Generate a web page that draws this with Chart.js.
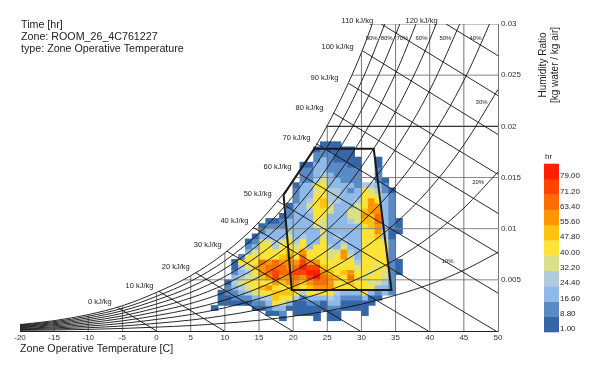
<!DOCTYPE html>
<html>
<head>
<meta charset="utf-8">
<title>Psychrometric chart</title>
<script src="https://cdn.jsdelivr.net/npm/chart.js@4"></script>
<style>
  body { margin: 0; background: #fff; }
</style>
</head>
<body>
<canvas id="psychro" width="600" height="368"></canvas>
<script>
const titleLines = ['Time [hr]', 'Zone: ROOM_26_4C761227', 'type: Zone Operative Temperature'];
const xTickLabels = ['-20','-15','-10','-5','0','5','10','15','20','25','30','35','40','45','50'];
const yTickLabels = ['', '0.005', '0.01', '0.015', '0.02', '0.025', '0.03'];

// legend, bottom to top
const legendLabels = ['1.00','8.80','16.60','24.40','32.20','40.00','47.80','55.60','63.40','71.20','79.00'];
const legendStops = [1, 8.8, 16.6, 24.4, 32.2, 40, 47.8, 55.6, 63.4, 71.2, 79];
const legendColors = ['#3566a8','#5a8ac4','#8fb9e8','#afcbdc','#d9e085','#fde338','#fec20f','#ff9500','#ff6c00','#ff4300','#ff2000'];

// hours per cell: one column per degree, cells 0.0005 tall, going up from columnStart
const tempBins = [8,9,10,11,12,13,14,15,16,17,18,19,20,21,22,23,24,25,26,27,28,29,30,31,32,33,34,35];
const columnStart = [.002,.0025,.0025,.0025,.0025,.0025,.002,.002,.0015,.0015,.001,.002,.0015,.0015,.0015,.001,.002,.001,.001,.002,.002,.002,.0015,.0025,.003,.0035,.0035,.0055];
const hourColumns = [
  [4],
  [4,4,4],
  [4,4,12,12,4],
  [4,12,12,20,28,20,12,4,4],
  [4,12,20,28,36,28,20,28,44,12],
  [4,12,28,36,44,36,28,36,44,44,20,12,4],
  [4,12,20,36,44,44,36,44,52,44,44,36,20,12,4],
  [4,12,28,44,52,44,52,60,60,67,44,44,44,36,20,12,4],
  [4,12,20,28,44,60,44,60,67,67,60,44,44,44,36,20,20,12,4],
  [4,20,44,52,52,44,60,75,75,67,67,44,44,28,28,20,20,12,4],
  [4,12,20,36,44,52,44,52,60,67,67,60,52,44,44,36,20,20,12,12,4],
  [4,20,44,52,44,60,60,67,60,60,60,52,44,44,36,28,20,20,12,12,4],
  [4,4,4,28,44,52,60,67,75,67,60,44,44,36,28,20,20,20,20,20,20,20,12,12,12,4],
  [4,4,4,12,28,44,52,60,75,82,75,67,60,44,44,28,20,20,20,20,20,20,20,20,20,20,12,12,12,4],
  [4,4,12,20,44,52,60,75,82,75,60,44,44,20,20,20,20,20,20,20,28,36,28,20,20,20,12,12,12,4],
  [4,4,4,12,20,44,60,67,82,82,75,60,44,44,44,20,20,20,36,44,44,44,44,44,44,36,44,28,20,20,20,12,12,4],
  [4,4,20,44,60,67,67,60,52,44,44,44,44,44,36,36,36,36,44,44,52,52,44,44,44,36,28,20,20,20,12,12,4],
  [4,4,12,20,28,44,60,60,60,52,44,44,36,36,28,20,20,20,20,20,20,36,36,28,28,28,20,20,20,12,12,12,12,4,4],
  [4,4,12,20,20,28,44,44,52,44,44,44,44,36,20,20,28,20,20,20,20,20,20,28,28,28,20,20,12,12,12,4,4,4,4],
  [4,4,12,20,44,44,44,52,44,44,60,60,36,28,20,20,20,20,20,20,20,20,20,20,20,12,12,12,12,4,4,4],
  [4,4,12,20,44,52,67,60,44,44,36,28,20,20,20,20,20,28,36,36,20,20,20,12,20,12,12,12,4,4,4,4],
  [4,4,12,20,44,44,44,44,36,28,20,20,20,20,20,20,20,36,36,36,36,28,20,20,12,12,12,12,4,4],
  [4,4,4,20,44,44,44,36,44,44,44,44,44,44,44,44,44,44,52,60,52,44,44,44,44,28],
  [4,4,20,44,36,44,36,44,44,44,44,44,44,44,44,52,52,52,60,60,60,44,36,28],
  [4,12,20,36,44,44,36,44,44,44,44,44,52,60,60,67,67,60,60,44,36,28,20,12,12,12,4,4],
  [20,20,28,36,36,44,44,44,44,44,36,28,28,20,20,20,20,20,20,20,12,12,4],
  [12,12,12,12,12,12,12,12,12,12,12,4,4,12,12,12,12,12,12,12,4],
  [4,4,4,0,0,0,0,0,4,4,4]
];

// relative humidity curves, read at every 5 degrees from -20
const curveTemps = [-20,-15,-10,-5,0,5,10,15,20,25,30,35,40,45,50];
const rh100 = [.00063,.00101,.0016,.00247,.00377,.0054,.00763,.01065,.0147,.02008,.0272,.03658];
const rh90 = [.00057,.00091,.00144,.00222,.00339,.00486,.00686,.00957,.0132,.01801,.02437,.03273];
const rh80 = [.0005,.00081,.00128,.00198,.00302,.00431,.00609,.00849,.0117,.01596,.02157,.02892,.0385];
const rh70 = [.00044,.00071,.00112,.00173,.00264,.00377,.00532,.00741,.01021,.01392,.0188,.02516,.03344];
const rh60 = [.00038,.00061,.00096,.00148,.00226,.00323,.00456,.00634,.00873,.01189,.01604,.02144,.02844,.03746];
const rh50 = [.00032,.00051,.0008,.00124,.00189,.00269,.00379,.00528,.00727,.00988,.01331,.01777,.02352,.03091];
const rh40 = [.00025,.0004,.00064,.00099,.00151,.00215,.00303,.00421,.0058,.00788,.0106,.01413,.01868,.02448,.03188];
const rh30 = [.00019,.0003,.00048,.00074,.00113,.00161,.00227,.00316,.00434,.00589,.00792,.01054,.0139,.01819,.0236];
const rh20 = [.00013,.0002,.00032,.00049,.00075,.00107,.00151,.0021,.00289,.00392,.00526,.00699,.0092,.01201,.01554];
const rh10 = [.00006,.0001,.00016,.00025,.00038,.00053,.00076,.00105,.00144,.00195,.00262,.00349,.00456,.00594,.00768];
const rhCurves = [rh100, rh90, rh80, rh70, rh60, rh50, rh40, rh30, rh20, rh10];

// enthalpy lines, from the saturation end to the bottom or right edge
const enthalpyLabels = ['0 kJ/kg','10 kJ/kg','20 kJ/kg','30 kJ/kg','40 kJ/kg','50 kJ/kg','60 kJ/kg','70 kJ/kg','80 kJ/kg','90 kJ/kg','100 kJ/kg','110 kJ/kg','120 kJ/kg'];
const enthalpyStartT = [-5.7,.3,5.7,10.3,14.2,17.7,20.8,23.4,25.9,28.1,30.1,32.9,42.4];
const enthalpyStartW = [.0023,.0039,.0057,.0078,.0101,.0127,.0154,.0183,.0213,.0242,.0274,.03,.03];
const enthalpyEndT = [0,9.9,19.9,29.8,39.8,49.7,50,50,50,50,50,50,50];
const enthalpyEndW = [0,0,0,0,0,0,.0037,.0076,.0115,.0153,.0192,.023,.0269];
const enthalpyLabelT = [-8.3,-2.5,2.8,7.5,11.4,14.8,17.7,20.5,22.4,24.6,26.5,29.4,38.8];
const enthalpyLabelW = [.0028,.0044,.0063,.0084,.0108,.0134,.016,.0189,.0218,.0247,.0278,.0303,.0303];

const rhLabels = ['90%','80%','70%','60%','50%','40%','30%','20%','10%'];
const rhLabelT = [31.5,33.7,36,38.8,42.3,46.7,47.6,47.1,42.6];
const rhLabelW = [.0286,.0286,.0286,.0286,.0286,.0286,.0223,.0145,.0068];

// grid lines stop at the saturation curve
const gridTemps = [-15,-10,-5,0,5,10,15,20,25,30,35,40,45];
const gridTemp_top = [.00101,.0016,.00247,.00377,.0054,.00763,.01065,.0147,.02008,.0272,.03,.03,.03];
const gridHumidity = [.005,.01,.015,.02,.025,.03];
const gridHumidity_left = [3.9,14,20.3,24.9,28.6,31.7];

// comfort polygon
const polygonT = [18.6,23.1,31.8,34.4,19.8,18.6];
const polygonW = [.0133,.0178,.0178,.004,.004,.0133];

function cellColor(hours) {
  let idx = 0;
  legendStops.forEach((s, i) => { if (hours >= s) idx = i; });
  return legendColors[idx];
}

// merge neighbours of the same class so no seams show
const cellData = [];
const cellColors = [];
tempBins.forEach((t, c) => {
  let lo = columnStart[c], run = null;
  hourColumns[c].forEach((h) => {
    const hi = lo + 0.0005;
    const col = h > 0 ? cellColor(h) : null;
    if (col && run && run.col === col) {
      run.point.y[1] = hi;
    } else if (col) {
      run = { col: col, point: { x: t + 0.5, y: [lo, hi] } };
      cellData.push(run.point);
      cellColors.push(col);
    } else {
      run = null;
    }
    lo = hi;
  });
});

function lineSet(points, color, width) {
  return {
    type: 'line', data: points, borderColor: color, borderWidth: width,
    pointRadius: 0, fill: false, tension: 0, order: 1
  };
}

const datasets = [{
  type: 'bar', data: cellData, backgroundColor: cellColors, barThickness: 7,
  grouped: false, borderWidth: 0, order: 5
}];

rhCurves.forEach((vals) => {
  const set = lineSet(vals.map((w, i) => ({ x: curveTemps[i], y: w })), '#111', 0.9);
  set.cubicInterpolationMode = 'monotone';
  datasets.push(set);
});
enthalpyStartT.forEach((t, i) => {
  datasets.push(lineSet([{ x: t, y: enthalpyStartW[i] }, { x: enthalpyEndT[i], y: enthalpyEndW[i] }], '#111', 0.9));
});
gridTemps.forEach((t, i) => {
  datasets.push(lineSet([{ x: t, y: 0 }, { x: t, y: gridTemp_top[i] }], '#666', 0.9));
});
gridHumidity.forEach((w, i) => {
  datasets.push(lineSet([{ x: gridHumidity_left[i], y: w }, { x: 50, y: w }], i === 3 ? '#333' : '#888', i === 3 ? 1.3 : 1));
});
const polygon = lineSet(polygonT.map((t, i) => ({ x: t, y: polygonW[i] })), '#1a1a1a', 2);
polygon.order = 0;
datasets.push(polygon);

const textPlugin = {
  id: 'textPlugin',
  afterDraw(chart) {
    const ctx = chart.ctx;
    const x = chart.scales.x, y = chart.scales.y;
    ctx.save();
    ctx.fillStyle = '#222';
    ctx.textBaseline = 'middle';

    ctx.textAlign = 'left';
    ctx.font = '10.7px "Liberation Sans"';
    titleLines.forEach((s, i) => ctx.fillText(s, 21, 25 + i * 12));
    ctx.fillText('Zone Operative Temperature [C]', 20, 349);

    ctx.save();
    ctx.translate(543, 65);
    ctx.rotate(-Math.PI / 2);
    ctx.textAlign = 'center';
    ctx.font = '10px "Liberation Sans"';
    ctx.fillText('Humidity Ratio', 0, 0);
    ctx.fillText('[kg water / kg air]', 0, 12);
    ctx.restore();

    ctx.textAlign = 'center';
    ctx.font = '7.5px "Liberation Sans"';
    enthalpyLabels.forEach((s, i) => {
      ctx.fillText(s, x.getPixelForValue(enthalpyLabelT[i]), y.getPixelForValue(enthalpyLabelW[i]));
    });
    ctx.font = '6px "Liberation Sans"';
    rhLabels.forEach((s, i) => {
      ctx.fillText(s, x.getPixelForValue(rhLabelT[i]), y.getPixelForValue(rhLabelW[i]));
    });

    // colour bar
    legendColors.forEach((c, i) => {
      ctx.fillStyle = c;
      ctx.fillRect(544, 316.7 - i * 15.3, 15, 15.6);
    });
    ctx.fillStyle = '#222';
    ctx.textAlign = 'left';
    ctx.font = '8px "Liberation Sans"';
    legendLabels.forEach((s, i) => ctx.fillText(s, 560, 329 - i * 15.3));
    ctx.fillText('hr', 545, 157);
    ctx.restore();
  }
};

new Chart(document.getElementById('psychro'), {
  type: 'bar',
  data: { datasets: datasets },
  plugins: [textPlugin],
  options: {
    responsive: false,
    animation: false,
    layout: { padding: { left: 20, top: 24, right: 0, bottom: 0 } },
    plugins: { legend: { display: false }, tooltip: { enabled: false }, title: { display: false } },
    scales: {
      x: {
        type: 'linear', min: -20, max: 50, offset: false,
        grid: { display: false, drawTicks: false },
        border: { color: '#222', width: 1 },
        ticks: {
          stepSize: 5, padding: 2, maxRotation: 0, autoSkip: false,
          color: '#333', font: { family: 'Liberation Sans', size: 8 },
          callback: (v, i) => xTickLabels[i]
        },
        afterFit: (s) => { s.height = 37; }
      },
      y: {
        position: 'right', min: 0, max: 0.03,
        grid: { display: false, drawTicks: false },
        border: { color: '#777', width: 1 },
        ticks: {
          stepSize: 0.005, padding: 3, autoSkip: false,
          color: '#333', font: { family: 'Liberation Sans', size: 8 },
          callback: (v, i) => yTickLabels[i]
        },
        afterFit: (s) => { s.width = 102; }
      }
    }
  }
});
</script>
</body>
</html>
